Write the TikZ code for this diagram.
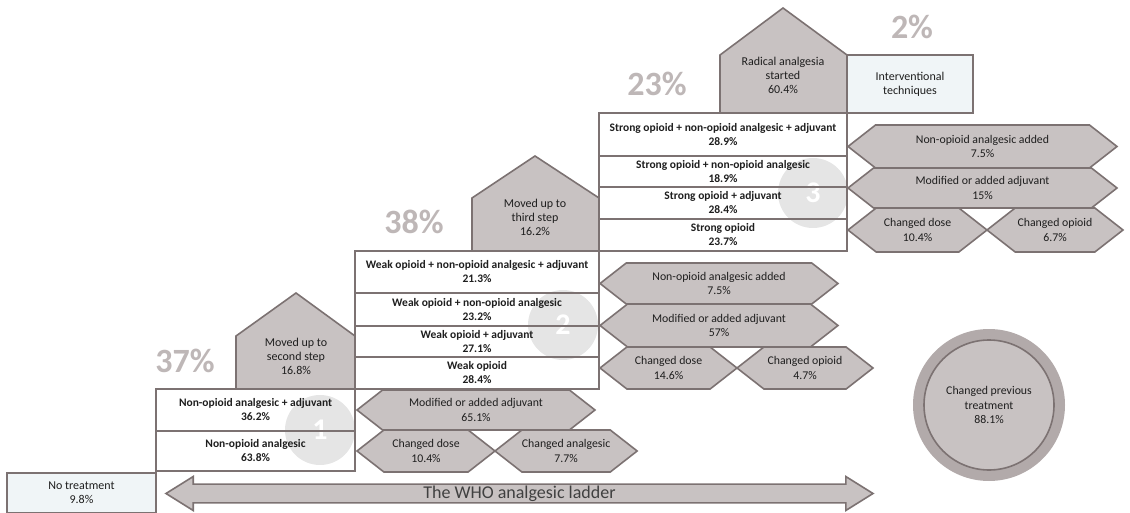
\documentclass[tikz,border=0pt]{standalone}
\usepackage{fontspec}
\setmainfont{Carlito}
\usetikzlibrary{positioning,shapes.symbols,shapes.arrows}

\definecolor{edgegray}{RGB}{124,114,114}
\definecolor{hexfill}{RGB}{200,194,194}
\definecolor{ringfill}{RGB}{178,170,170}
\definecolor{sharegray}{RGB}{190,183,183}
\definecolor{paleblue}{RGB}{240,245,247}
\definecolor{markgray}{RGB}{229,229,229}
\definecolor{inkgray}{RGB}{30,30,30}

\begin{document}
\begin{tikzpicture}[x=1pt, y=-1pt,
  every node/.style={text=inkgray},
  row/.style={draw=edgegray, line width=1.6pt, align=center, inner sep=0pt, outer sep=0pt, font=\fontsize{11.5}{14}\selectfont\bfseries},
  hexa/.style={signal, signal to=west and east, signal pointer angle=76, draw=edgegray, fill=hexfill, line width=1.6pt, align=center, inner sep=0pt, outer sep=0pt, font=\fontsize{11.8}{14.5}\selectfont},
  house/.style={draw=edgegray, fill=hexfill, line width=1.6pt},
  housetext/.style={align=center, font=\fontsize{12}{14}\selectfont},
  pale/.style={draw=edgegray, fill=paleblue, line width=1.6pt, align=center, font=\fontsize{12}{14}\selectfont},
  share/.style={font=\fontsize{34}{34}\selectfont\bfseries, text=sharegray},
  stepmark/.style={circle, fill=markgray, minimum size=70pt, inner sep=0pt, text=white, font=\fontsize{30}{30}\selectfont\bfseries}
]
\useasboundingbox (0,0) rectangle (1130,513);

% step numbers behind the rows
\node[stepmark] (mark1) at (320,430) {1};
\node[stepmark] (mark2) at (563,325) {2};
\node[stepmark] (mark3) at (813,193) {3};

% step 1
\node[row, minimum width=199pt, minimum height=42pt] (s1a) at (255.5,410) {Non-opioid analgesic + adjuvant\\36.2\%};
\node[row, minimum width=199pt, minimum height=40pt, below=0pt of s1a] (s1b) {Non-opioid analgesic\\63.8\%};

% step 2
\node[row, minimum width=244pt, minimum height=42pt] (s2a) at (477,272) {Weak opioid + non-opioid analgesic + adjuvant\\21.3\%};
\node[row, minimum width=244pt, minimum height=33pt, below=0pt of s2a] (s2b) {Weak opioid + non-opioid analgesic\\23.2\%};
\node[row, minimum width=244pt, minimum height=31pt, below=0pt of s2b] (s2c) {Weak opioid + adjuvant\\27.1\%};
\node[row, minimum width=244pt, minimum height=32pt, below=0pt of s2c] (s2d) {Weak opioid\\28.4\%};

% step 3
\node[row, minimum width=248pt, minimum height=43pt] (s3a) at (723,134.5) {Strong opioid + non-opioid analgesic + adjuvant\\28.9\%};
\node[row, minimum width=248pt, minimum height=31pt, below=0pt of s3a] (s3b) {Strong opioid + non-opioid analgesic\\18.9\%};
\node[row, minimum width=248pt, minimum height=32pt, below=0pt of s3b] (s3c) {Strong opioid + adjuvant\\28.4\%};
\node[row, minimum width=248pt, minimum height=32pt, below=0pt of s3c] (s3d) {Strong opioid\\23.7\%};

% moving up
\draw[house] (236,389) -- (236,336) -- (296,293) -- (355,336) -- (355,389) -- cycle;
\node[housetext] (up2) at (296,356) {Moved up to\\second step\\16.8\%};
\draw[house] (472,251) -- (472,198) -- (535,156) -- (599,198) -- (599,251) -- cycle;
\node[housetext] (up3) at (535,217) {Moved up to\\third step\\16.2\%};
\draw[house] (720,113) -- (720,55) -- (783,8) -- (847,55) -- (847,113) -- cycle;
\node[housetext] (radical) at (783,75) {Radical analgesia\\started\\60.4\%};

% changes within a step
\node[hexa, minimum width=238pt, minimum height=40pt] (h1a) at (476,410) {Modified or added adjuvant\\65.1\%};
\node[hexa, minimum width=138pt, minimum height=42pt] (h1b) at (426,451) {Changed dose\\10.4\%};
\node[hexa, minimum width=138pt, minimum height=42pt, right=0pt of h1b] (h1c) {Changed analgesic\\7.7\%};

\node[hexa, minimum width=238pt, minimum height=41pt] (h2a) at (719,283.5) {Non-opioid analgesic added\\7.5\%};
\node[hexa, minimum width=238pt, minimum height=43pt] (h2b) at (719,325.5) {Modified or added adjuvant\\57\%};
\node[hexa, minimum width=137pt, minimum height=42pt] (h2c) at (668.5,368) {Changed dose\\14.6\%};
\node[hexa, minimum width=136pt, minimum height=42pt, right=0pt of h2c] (h2d) {Changed opioid\\4.7\%};

\node[hexa, minimum width=269pt, minimum height=43pt] (h3a) at (982.5,146.5) {Non-opioid analgesic added\\7.5\%};
\node[hexa, minimum width=269pt, minimum height=40pt] (h3b) at (982.5,188) {Modified or added adjuvant\\15\%};
\node[hexa, minimum width=139pt, minimum height=44pt] (h3c) at (917.5,230) {Changed dose\\10.4\%};
\node[hexa, minimum width=136pt, minimum height=44pt, right=0pt of h3c] (h3d) {Changed opioid\\6.7\%};

% side boxes
\node[pale, minimum width=126pt, minimum height=58pt] (interv) at (910,84) {Interventional\\techniques};
\node[pale, minimum width=149pt, minimum height=40pt] (none) at (81.5,493) {No treatment\\9.8\%};

% shares
\node[share] (p37) at (185,361) {37\%};
\node[share] (p38) at (414,222) {38\%};
\node[share] (p23) at (657,84) {23\%};
\node[share] (p2) at (912,27) {2\%};

% overall
\node[circle, fill=ringfill, minimum size=152pt] (ring) at (989,405) {};
\node[circle, draw=edgegray, fill=hexfill, line width=1.6pt, minimum size=130pt, align=center, font=\fontsize{11.8}{14.5}\selectfont] (prev) at (ring.center) {Changed previous\\treatment\\88.1\%};

% the ladder
\node[double arrow, draw=edgegray, fill=hexfill, line width=1.6pt, minimum height=707pt, minimum width=34pt, inner xsep=2pt, inner ysep=0.5pt, double arrow head extend=7.5pt, double arrow tip angle=64, font=\fontsize{18}{18}\selectfont, text=black!75] (ladder) at (519.5,493.5) {The WHO analgesic ladder};
\end{tikzpicture}
\end{document}
